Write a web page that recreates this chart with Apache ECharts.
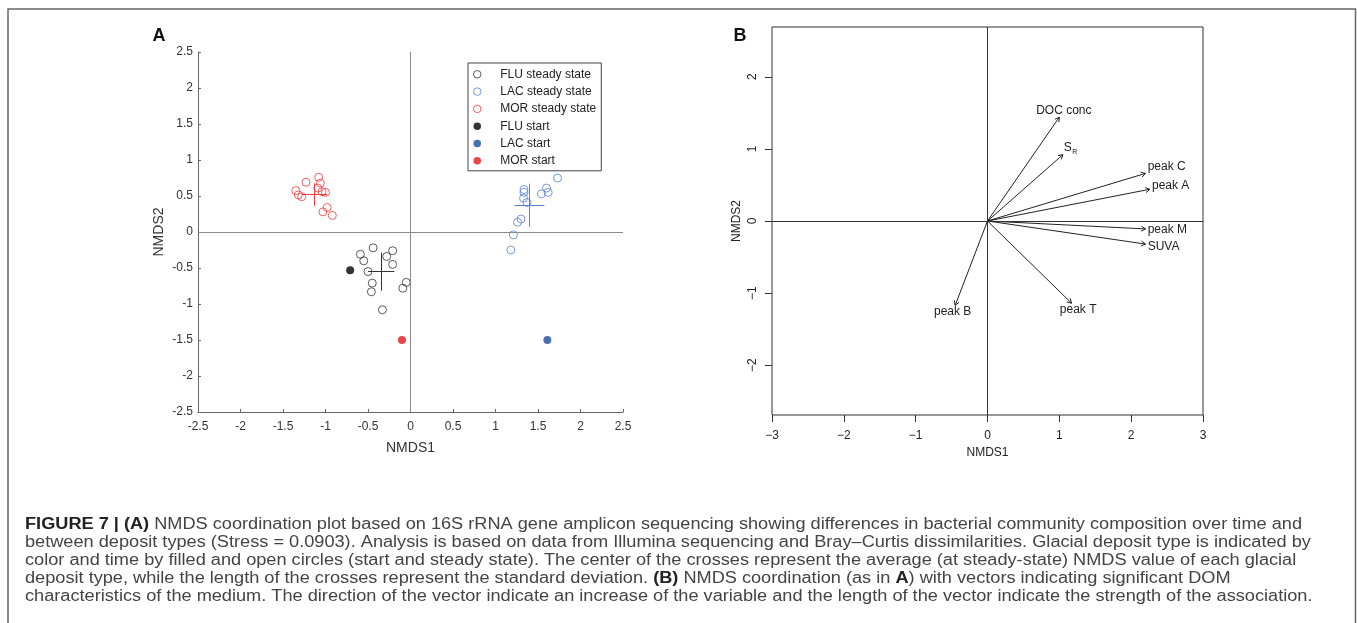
<!DOCTYPE html>
<html>
<head>
<meta charset="utf-8">
<script src="https://cdn.jsdelivr.net/npm/echarts@6/dist/echarts.min.js"></script>
<style>
  html, body { margin: 0; padding: 0; background: #fff; }
  #main { width: 1357px; height: 623px; }
</style>
</head>
<body>
<div id="main"></div>
<script>
// ---- panel A: NMDS scores (NMDS1, NMDS2) ----
const fluSteady = [[-0.59, -0.31], [-0.55, -0.40], [-0.44, -0.22], [-0.50, -0.55], [-0.45, -0.71], [-0.46, -0.83],
  [-0.33, -1.08], [-0.28, -0.34], [-0.21, -0.26], [-0.21, -0.45], [-0.05, -0.70], [-0.09, -0.78]]
const lacSteady = [[1.18, -0.25], [1.21, -0.04], [1.26, 0.135], [1.30, 0.18], [1.335, 0.59], [1.335, 0.55],
  [1.33, 0.47], [1.37, 0.41], [1.54, 0.53], [1.60, 0.61], [1.62, 0.55], [1.73, 0.75]]
const morSteady = [[-1.35, 0.575], [-1.32, 0.515], [-1.28, 0.49], [-1.23, 0.69], [-1.08, 0.76], [-1.06, 0.68],
  [-1.09, 0.61], [-1.04, 0.56], [-1.00, 0.55], [-0.98, 0.34], [-1.03, 0.28], [-0.92, 0.23]]
const fluStart = [[-0.71, -0.53]]
const lacStart = [[1.61, -1.50]]
const morStart = [[-0.10, -1.50]]

// steady-state mean and standard deviation (the crosses): FLU, LAC, MOR
const crossMean = [[-0.345, -0.55], [1.40, 0.37], [-1.13, 0.52]]
const crossSd = [[0.155, 0.265], [0.175, 0.30], [0.15, 0.155]]

// ---- panel B: fitted DOM vectors ----
const envNames = ['DOC conc', 'S_R', 'peak C', 'peak A', 'peak M', 'SUVA', 'peak B', 'peak T']
const envX = [1.00, 1.05, 2.20, 2.26, 2.20, 2.20, -0.45, 1.17]
const envY = [1.44, 0.92, 0.66, 0.44, -0.11, -0.32, -1.17, -1.14]
const ticksBy = [-2, -1, 0, 1, 2]

const FONT = '"Liberation Sans", Arial, Helvetica, sans-serif'
const colFlu = '#333333', colLac = '#5a7fd0', colMor = '#ec3c3c'

const measureCtx = document.createElement('canvas').getContext('2d')
function textWidth(str, size, weight) {
  measureCtx.font = (weight || 'normal') + ' ' + size + 'px ' + FONT
  return measureCtx.measureText(str).width
}

function crossLines(i, color) {
  const [cx, cy] = crossMean[i], [sx, sy] = crossSd[i]
  return {
    silent: true,
    symbol: 'none',
    label: { show: false },
    lineStyle: { color: color, width: 1, type: 'solid' },
    emphasis: { disabled: true },
    data: [
      [{ coord: [cx - sx, cy] }, { coord: [cx + sx, cy] }],
      [{ coord: [cx, cy - sy] }, { coord: [cx, cy + sy] }]
    ]
  }
}

function openSeries(name, data, color, idx) {
  return {
    name, type: 'scatter', xAxisIndex: 0, yAxisIndex: 0, data,
    symbol: 'circle', symbolSize: 8,
    itemStyle: { color: 'rgba(0,0,0,0)', borderColor: color, borderWidth: 1 },
    markLine: crossLines(idx, color)
  }
}
function filledSeries(name, data, color) {
  return {
    name, type: 'scatter', xAxisIndex: 0, yAxisIndex: 0, data,
    symbol: 'circle', symbolSize: 8,
    itemStyle: { color: color }
  }
}

// arrows with labels placed like vegan's ordiArrowTextXY
function renderArrow(params, api) {
  const o = api.coord([0, 0])
  const t = api.coord([api.value(0), api.value(1)])
  const dx = t[0] - o[0], dy = t[1] - o[1]
  const ang = Math.atan2(dy, dx)
  const L = 5, A = Math.PI / 6
  const h1 = [t[0] - L * Math.cos(ang - A), t[1] - L * Math.sin(ang - A)]
  const h2 = [t[0] - L * Math.cos(ang + A), t[1] - L * Math.sin(ang + A)]
  const name = envNames[params.dataIndex]
  const fs = 12
  const isSub = name === 'S_R'
  const w = isSub ? textWidth('S', fs) + textWidth('R', 7) : textWidth(name, fs)
  const h = 0.72 * fs
  let ox = Math.sign(dx) * (w / 2 + h / 4), oy = 0.75 * h * Math.sign(dy)
  const b = dy / dx
  const move = oy / b
  if (isFinite(move) && Math.abs(move) <= Math.abs(ox)) ox = move
  else oy = b * ox
  const cx = t[0] + ox, cy = t[1] + oy
  const children = [
    { type: 'line', shape: { x1: o[0], y1: o[1], x2: t[0], y2: t[1] }, style: { stroke: '#222', lineWidth: 1 } },
    { type: 'polyline', shape: { points: [h1, t, h2] }, style: { stroke: '#222', fill: null, lineWidth: 1 } }
  ]
  const txtStyle = { fill: '#222', fontFamily: FONT }
  if (isSub) {
    const wS = textWidth('S', fs)
    children.push({ type: 'text', x: cx - w / 2, y: cy, style: Object.assign({ text: 'S', fontSize: fs, align: 'left', verticalAlign: 'middle' }, txtStyle) })
    children.push({ type: 'text', x: cx - w / 2 + wS + 0.5, y: cy + 4, style: Object.assign({ text: 'R', fontSize: 7, align: 'left', verticalAlign: 'middle' }, txtStyle) })
  } else {
    children.push({ type: 'text', x: cx, y: cy, style: Object.assign({ text: name, fontSize: fs, align: 'center', verticalAlign: 'middle' }, txtStyle) })
  }
  return { type: 'group', children }
}

// caption
const captionLines = [
  '{b|FIGURE 7 | (A)} NMDS coordination plot based on 16S rRNA gene amplicon sequencing showing differences in bacterial community composition over time and',
  'between deposit types (Stress = 0.0903). Analysis is based on data from Illumina sequencing and Bray\u2013Curtis dissimilarities. Glacial deposit type is indicated by',
  'color and time by filled and open circles (start and steady state). The center of the crosses represent the average (at steady-state) NMDS value of each glacial',
  'deposit type, while the length of the crosses represent the standard deviation. {b|(B)} NMDS coordination (as in {b|A}) with vectors indicating significant DOM',
  'characteristics of the medium. The direction of the vector indicate an increase of the variable and the length of the vector indicate the strength of the association.'
]
const capSize = 16
const line1Width = textWidth('FIGURE 7 | (A)', capSize, 'bold') +
  textWidth(' NMDS coordination plot based on 16S rRNA gene amplicon sequencing showing differences in bacterial community composition over time and', capSize)
const capScale = 1277 / line1Width

const graphics = [
  { type: 'rect', shape: { x: 8, y: 9, width: 1347.5, height: 700 }, style: { fill: null, stroke: '#666', lineWidth: 1.5 }, silent: true },
  { type: 'text', x: 159, y: 36, style: { text: 'A', font: 'bold 18px ' + FONT, fill: '#111', align: 'center', verticalAlign: 'middle' } },
  { type: 'text', x: 740, y: 36, style: { text: 'B', font: 'bold 18px ' + FONT, fill: '#111', align: 'center', verticalAlign: 'middle' } }
]
captionLines.forEach((ln, i) => {
  graphics.push({
    type: 'text', x: 25, y: 524.5 + i * 17.9, scaleX: capScale,
    style: {
      text: ln, fontSize: capSize, fontFamily: FONT, fill: '#444', align: 'left', verticalAlign: 'middle',
      rich: { b: { fontSize: capSize, fontFamily: FONT, fontWeight: 'bold', fill: '#222' } }
    }
  })
})

const chart = echarts.init(document.getElementById('main'))
chart.setOption({
  animation: false,
  textStyle: { fontFamily: FONT },
  graphic: graphics,
  grid: [
    { left: 198, top: 52, width: 425, height: 360 },
    { left: 772, top: 27, width: 431, height: 388, show: true, borderColor: '#333', borderWidth: 1, backgroundColor: 'transparent' }
  ],
  legend: {
    data: ['FLU steady state', 'LAC steady state', 'MOR steady state', 'FLU start', 'LAC start', 'MOR start'],
    orient: 'vertical', left: 468, top: 63,
    padding: [5.3, 5, 4, 5], itemGap: 5.3, itemWidth: 36, itemHeight: 7.5,
    borderColor: '#444', borderWidth: 1, selectedMode: false,
    itemStyle: { borderWidth: 1 },
    textStyle: { fontSize: 12, lineHeight: 12, color: '#222', fontFamily: FONT }
  },
  xAxis: [
    {
      gridIndex: 0, type: 'value', min: -2.5, max: 2.5, interval: 0.5,
      axisLine: { onZero: false, lineStyle: { color: '#666' } },
      axisTick: { inside: true, length: 3, lineStyle: { color: '#666' } },
      axisLabel: { fontSize: 12, color: '#333', margin: 9 },
      splitLine: { show: false },
      name: 'NMDS1', nameLocation: 'middle', nameGap: 29,
      nameTextStyle: { fontSize: 14, color: '#333' }
    },
    {
      gridIndex: 1, type: 'value', min: -3, max: 3, interval: 1,
      axisLine: { show: false, onZero: false },
      axisTick: { inside: false, length: 7, lineStyle: { color: '#333' } },
      axisLabel: { fontSize: 12, color: '#222', margin: 15, formatter: v => String(v).replace('-', '\u2212') },
      splitLine: { show: false },
      name: 'NMDS1', nameLocation: 'middle', nameGap: 29,
      nameTextStyle: { fontSize: 12, color: '#222' }
    }
  ],
  yAxis: [
    {
      gridIndex: 0, type: 'value', min: -2.5, max: 2.5, interval: 0.5,
      axisLine: { onZero: false, lineStyle: { color: '#666' } },
      axisTick: { inside: true, length: 3, lineStyle: { color: '#666' } },
      axisLabel: { fontSize: 12, color: '#333', margin: 5 },
      splitLine: { show: false },
      name: 'NMDS2', nameLocation: 'middle', nameGap: 32, nameRotate: 90,
      nameTextStyle: { fontSize: 14, color: '#333' }
    },
    {
      gridIndex: 1, type: 'value', min: -2.69, max: 2.69,
      axisLine: { show: false, onZero: false },
      axisTick: { inside: false, length: 7, lineStyle: { color: '#333' }, customValues: ticksBy },
      axisLabel: { fontSize: 12, color: '#222', margin: 13, rotate: 90, customValues: ticksBy, formatter: v => String(v).replace('-', '\u2212') },
      splitLine: { show: false },
      name: 'NMDS2', nameLocation: 'middle', nameGap: 29, nameRotate: 90,
      nameTextStyle: { fontSize: 12, color: '#222' }
    }
  ],
  series: [
    {
      name: 'zeroA', type: 'scatter', xAxisIndex: 0, yAxisIndex: 0, data: [[0, 0]], symbolSize: 0, silent: true,
      markLine: {
        silent: true, symbol: 'none', label: { show: false },
        lineStyle: { color: '#8a8a8a', width: 1, type: 'solid' },
        data: [{ xAxis: 0 }, { yAxis: 0 }]
      }
    },
    openSeries('FLU steady state', fluSteady, colFlu, 0),
    openSeries('LAC steady state', lacSteady, colLac, 1),
    openSeries('MOR steady state', morSteady, colMor, 2),
    filledSeries('FLU start', fluStart, '#000000'),
    filledSeries('LAC start', lacStart, '#1d4b9e'),
    filledSeries('MOR start', morStart, '#e5161d'),
    {
      name: 'zeroB', type: 'scatter', xAxisIndex: 1, yAxisIndex: 1, data: [[0, 0]], symbolSize: 0, silent: true,
      markLine: {
        silent: true, symbol: 'none', label: { show: false },
        lineStyle: { color: '#333', width: 1, type: 'solid' },
        data: [{ xAxis: 0 }, { yAxis: 0 }]
      }
    },
    {
      name: 'vectors', type: 'custom', xAxisIndex: 1, yAxisIndex: 1, silent: true,
      data: envX.map((x, i) => [x, envY[i]]),
      encode: { x: 0, y: 1 },
      renderItem: renderArrow
    }
  ]
})
</script>
</body>
</html>
